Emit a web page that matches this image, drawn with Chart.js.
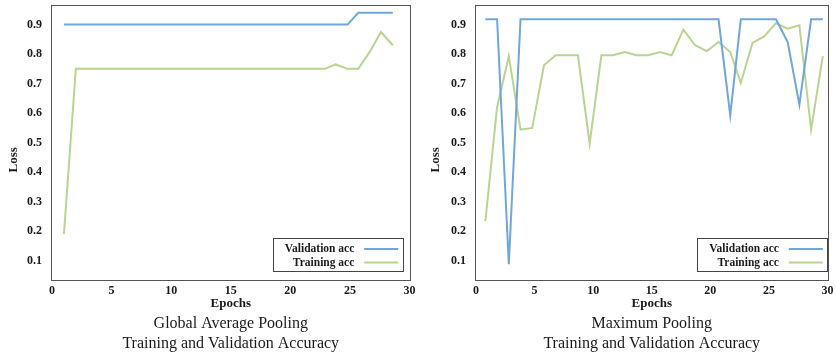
<!DOCTYPE html>
<html>
<head>
<meta charset="utf-8">
<title>Pooling accuracy curves</title>
<script src="https://cdn.jsdelivr.net/npm/chart.js@4/dist/chart.umd.min.js"></script>
<style>
  html, body { margin: 0; padding: 0; background: #ffffff; }
  #wrap { position: relative; width: 836px; height: 356px; overflow: hidden; }
  #wrap canvas { position: absolute; top: 0; }
  #gapChart { left: 0; }
  #maxChart { left: 418px; }
</style>
</head>
<body>
<div id="wrap">
  <canvas id="gapChart" width="418" height="356"></canvas>
  <canvas id="maxChart" width="418" height="356"></canvas>
</div>
<script>
// ---- data ----
const xTicks = [0, 5, 10, 15, 20, 25, 30];
const yTicks = [0.1, 0.2, 0.3, 0.4, 0.5, 0.6, 0.7, 0.8, 0.9];

// Global average pooling run (epoch positions as plotted on the axis)
const gapEpochs = [1.0, 2.0, 2.9, 3.9, 4.8, 5.8, 6.7, 7.7, 8.6, 9.6,
                   10.5, 11.5, 12.4, 13.4, 14.3, 15.3, 16.2, 17.2, 18.1, 19.1,
                   20.0, 21.0, 21.9, 22.9, 23.8, 24.8, 25.7, 26.7, 27.6, 28.6];
const gapValAcc = [0.90, 0.90, 0.90, 0.90, 0.90, 0.90, 0.90, 0.90, 0.90, 0.90,
                   0.90, 0.90, 0.90, 0.90, 0.90, 0.90, 0.90, 0.90, 0.90, 0.90,
                   0.90, 0.90, 0.90, 0.90, 0.90, 0.90, 0.94, 0.94, 0.94, 0.94];
const gapTrainAcc = [0.19, 0.75, 0.75, 0.75, 0.75, 0.75, 0.75, 0.75, 0.75, 0.75,
                     0.75, 0.75, 0.75, 0.75, 0.75, 0.75, 0.75, 0.75, 0.75, 0.75,
                     0.75, 0.75, 0.75, 0.75, 0.765, 0.75, 0.75, 0.81, 0.875, 0.83];

// Maximum pooling run
const maxEpochs = [0.8, 1.8, 2.8, 3.8, 4.8, 5.8, 6.8, 7.7, 8.7, 9.7,
                   10.7, 11.7, 12.7, 13.7, 14.7, 15.7, 16.7, 17.7, 18.7, 19.7,
                   20.7, 21.7, 22.6, 23.6, 24.6, 25.6, 26.6, 27.6, 28.6, 29.6];
const maxValAcc = [0.918, 0.918, 0.088, 0.918, 0.918, 0.918, 0.918, 0.918, 0.918, 0.918,
                   0.918, 0.918, 0.918, 0.918, 0.918, 0.918, 0.918, 0.918, 0.918, 0.918,
                   0.918, 0.593, 0.918, 0.918, 0.918, 0.918, 0.841, 0.629, 0.918, 0.918];
const maxTrainAcc = [0.234, 0.621, 0.793, 0.544, 0.550, 0.762, 0.796, 0.796, 0.796, 0.497,
                     0.796, 0.796, 0.807, 0.796, 0.796, 0.807, 0.796, 0.883, 0.830, 0.810,
                     0.841, 0.807, 0.702, 0.838, 0.860, 0.905, 0.886, 0.898, 0.544, 0.793];

const seriesNames = ['Validation acc', 'Training acc'];
const seriesColors = ['#6fa6dc', '#b7d58e'];

// ---- helpers ----
const SERIF = "'Liberation Serif', 'Times New Roman', Times, serif";
Chart.defaults.font.family = SERIF;
Chart.defaults.color = '#1a1a1a';

function points(xs, ys) {
  return xs.map((x, i) => ({ x: x, y: ys[i] }));
}

// box drawn round the plot area
const framePlugin = {
  id: 'frame',
  afterDraw(chart, args, opts) {
    const { ctx, chartArea: a } = chart;
    ctx.save();
    ctx.strokeStyle = opts.color || '#555';
    ctx.lineWidth = 1;
    ctx.strokeRect(Math.round(a.left) - 0.5, Math.round(a.top) - 0.5,
                   Math.round(a.right - a.left) + 1, Math.round(a.bottom - a.top) + 1);
    ctx.restore();
  }
};

// rotated y-axis caption
const sideLabelPlugin = {
  id: 'sideLabel',
  afterDraw(chart, args, opts) {
    const { ctx, chartArea: a } = chart;
    ctx.save();
    ctx.translate(opts.x, (a.top + a.bottom) / 2 + opts.dy);
    ctx.rotate(-Math.PI / 2);
    ctx.font = 'bold 13px ' + SERIF;
    ctx.fillStyle = '#1a1a1a';
    ctx.textAlign = 'center';
    ctx.textBaseline = 'middle';
    ctx.fillText(opts.text, 0, 0);
    ctx.restore();
  }
};

// framed legend in the lower right corner: label first, line sample after it
const boxLegendPlugin = {
  id: 'boxLegend',
  afterDraw(chart, args, opts) {
    const { ctx, chartArea: a } = chart;
    const w = 130, h = 33;
    const right = a.right - opts.right;
    const bottom = a.bottom - opts.bottom;
    const left = right - w, top = bottom - h;
    ctx.save();
    ctx.fillStyle = '#ffffff';
    ctx.fillRect(left, top, w, h);
    ctx.strokeStyle = '#444';
    ctx.lineWidth = 1;
    ctx.strokeRect(Math.round(left) + 0.5, Math.round(top) + 0.5, w, h);
    ctx.font = 'bold 11.5px ' + SERIF;
    ctx.textAlign = 'right';
    ctx.textBaseline = 'middle';
    chart.data.datasets.forEach((ds, i) => {
      const y = top + 11 + i * 13.4;
      ctx.fillStyle = '#1a1a1a';
      ctx.fillText(ds.label, right - 48.4, y + 0.5);
      ctx.strokeStyle = ds.borderColor;
      ctx.lineWidth = 2;
      ctx.beginPath();
      ctx.moveTo(right - 38.5, y);
      ctx.lineTo(right - 4.5, y);
      ctx.stroke();
    });
    ctx.restore();
  }
};

function makeChart(id, epochs, valAcc, trainAcc, titleLines, yAxisWidth, labelX, legendRight) {
  const tickFont = { family: SERIF, size: 12, weight: 'bold' };
  return new Chart(document.getElementById(id), {
    type: 'line',
    data: {
      datasets: [
        { label: seriesNames[0], data: points(epochs, valAcc),
          borderColor: seriesColors[0], backgroundColor: seriesColors[0],
          borderWidth: 2, pointRadius: 0, tension: 0, fill: false },
        { label: seriesNames[1], data: points(epochs, trainAcc),
          borderColor: seriesColors[1], backgroundColor: seriesColors[1],
          borderWidth: 2, pointRadius: 0, tension: 0, fill: false }
      ]
    },
    options: {
      responsive: false,
      animation: false,
      events: [],
      layout: { padding: { top: 6, right: 8.5, bottom: 3, left: 0 } },
      scales: {
        x: {
          type: 'linear',
          min: xTicks[0],
          max: xTicks[xTicks.length - 1],
          grid: { display: false, drawTicks: false },
          border: { display: false },
          afterBuildTicks: s => { s.ticks = xTicks.map(v => ({ value: v })); },
          ticks: { font: tickFont, color: '#1a1a1a', padding: 4, maxRotation: 0,
                   callback: v => String(v) },
          title: { display: true, text: 'Epochs', color: '#1a1a1a',
                   font: { family: SERIF, size: 13, weight: 'bold', lineHeight: 1.2 },
                   padding: { top: 0, bottom: 3 } },
          afterFit: s => { s.height = 35; s.paddingLeft = 0; s.paddingRight = 0; }
        },
        y: {
          type: 'linear',
          min: 0.036,
          max: 0.963,
          grid: { display: false, drawTicks: false },
          border: { display: false },
          afterBuildTicks: s => { s.ticks = yTicks.map(v => ({ value: v })); },
          ticks: { font: tickFont, color: '#1a1a1a', padding: 10,
                   callback: v => Number(v).toFixed(1) },
          afterFit: s => { s.width = yAxisWidth; s.paddingTop = 0; s.paddingBottom = 0; }
        }
      },
      plugins: {
        legend: { display: false },
        tooltip: { enabled: false },
        title: {
          display: true,
          position: 'bottom',
          fullSize: false,
          text: titleLines,
          color: '#1a1a1a',
          font: { family: SERIF, size: 16, weight: 'normal', lineHeight: 1.2 },
          padding: 0
        },
        frame: { color: '#555' },
        sideLabel: { text: 'Loss', x: labelX, dy: 17 },
        boxLegend: { right: legendRight, bottom: 8.6 }
      }
    },
    plugins: [framePlugin, sideLabelPlugin, boxLegendPlugin]
  });
}

makeChart('gapChart', gapEpochs, gapValAcc, gapTrainAcc,
          ['Global Average Pooling', 'Training and Validation Accuracy'], 52, 13.5, 6.8);
makeChart('maxChart', maxEpochs, maxValAcc, maxTrainAcc,
          ['Maximum Pooling', 'Training and Validation Accuracy'], 58, 17.7, 0.2);
</script>
</body>
</html>
